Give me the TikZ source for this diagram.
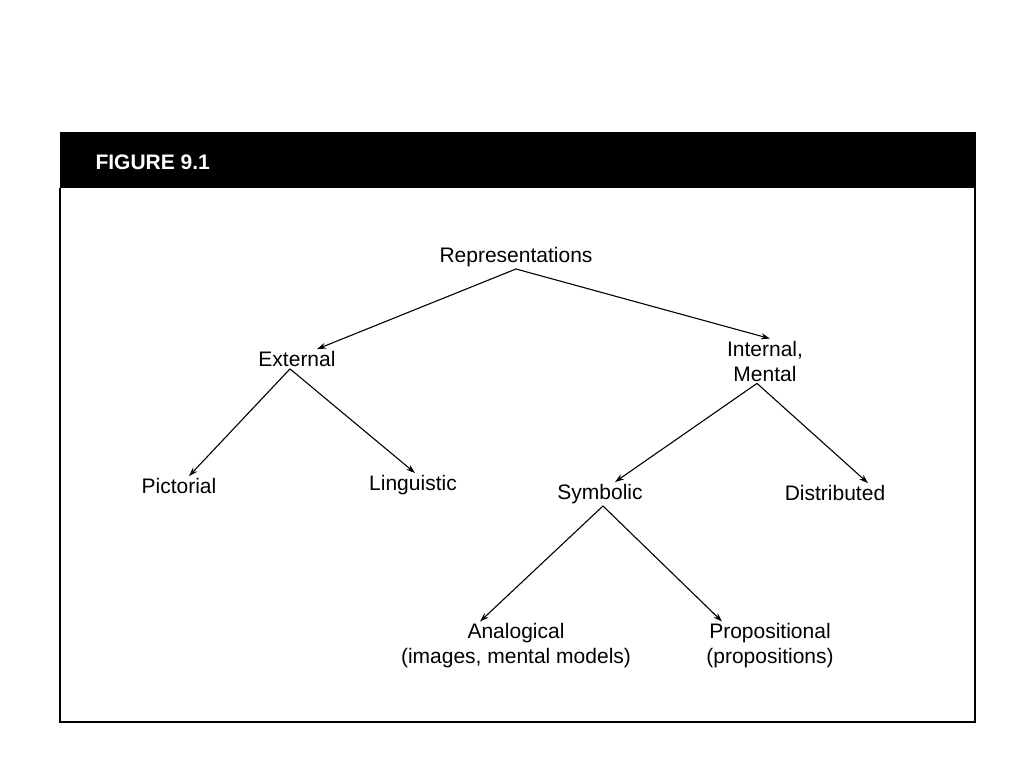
\documentclass[tikz,border=0pt]{standalone}
\usepackage{fontspec}
\setmainfont{Liberation Sans}
\usetikzlibrary{arrows.meta}
\begin{document}
\begin{tikzpicture}[x=1pt,y=-1pt,
    concept/.style={font=\fontsize{21}{25}\selectfont, align=center, inner sep=2pt},
    link/.style={-{Stealth[length=9pt,width=6pt]}, line width=1.1pt}]
  \useasboundingbox (0,0) rectangle (1024,768);
  % frame and header
  \fill (60,132) rectangle (975,188);
  \draw[line width=2pt] (60,188) -- (60,722) -- (975,722) -- (975,132);
  \node[anchor=west, text=white, font=\fontsize{21}{25}\selectfont\bfseries] (title) at (92,162) {FIGURE 9.1};
  % concepts
  \node[concept] (rep) at (516,257) {Representations};
  \node[concept] (ext) at (297,359) {External};
  \node[concept] (int) at (765,361) {Internal,\\Mental};
  \node[concept] (pic) at (179,486) {Pictorial};
  \node[concept] (lin) at (413,485) {Linguistic};
  \node[concept] (sym) at (600,494) {Symbolic};
  \node[concept] (dis) at (835,493) {Distributed};
  \node[concept] (ana) at (516,646) {Analogical\\(images, mental models)};
  \node[concept] (pro) at (770,646) {Propositional\\(propositions)};
  % links
  \draw[link] (rep.south) -- ([xshift=20pt]ext.north);
  \draw[link] (rep.south) -- ([xshift=5pt]int.north);
  \draw[link] ([xshift=-7pt]ext.south) -- ([xshift=10pt]pic.north);
  \draw[link] ([xshift=-7pt]ext.south) -- ([xshift=2pt]lin.north);
  \draw[link] ([xshift=-8pt]int.south) -- ([xshift=15pt]sym.north);
  \draw[link] ([xshift=-8pt]int.south) -- ([xshift=33pt]dis.north);
  \draw[link] ([xshift=3pt]sym.south) -- ([xshift=-36pt]ana.north);
  \draw[link] ([xshift=3pt]sym.south) -- ([xshift=-48pt]pro.north);
\end{tikzpicture}
\end{document}
